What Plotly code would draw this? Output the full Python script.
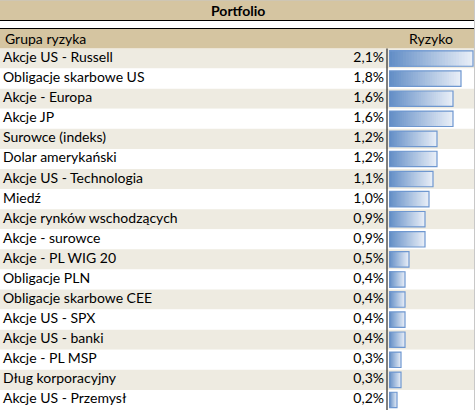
import plotly.graph_objects as go

# ---- data ----
categories = [
    "Akcje US - Russell", "Obligacje skarbowe US", "Akcje - Europa", "Akcje JP",
    "Surowce (indeks)", "Dolar amerykański", "Akcje US - Technologia", "Miedź",
    "Akcje rynków wschodzących", "Akcje - surowce", "Akcje - PL WIG 20",
    "Obligacje PLN", "Obligacje skarbowe CEE", "Akcje US - SPX", "Akcje US - banki",
    "Akcje - PL MSP", "Dług korporacyjny", "Akcje US - Przemysł",
]
risk = [2.1, 1.8, 1.6, 1.6, 1.2, 1.2, 1.1, 1.0, 0.9, 0.9, 0.5, 0.4, 0.4, 0.4, 0.4, 0.3, 0.3, 0.2]
title_text = "Portfolio"
col_headers = ["Grupa ryzyka", "Ryzyko"]

# ---- styling ----
W, H = 475, 410
FONT = "Lato"
FS = 14
TAN = "#D5C5A1"
BEIGE = "#EEEBE1"
BAR_DARK = (99, 142, 198)
BAR_LIGHT = (232, 238, 247)
BAR_EDGE = "#6E97D0"
top_px = 48.5           # top of data rows
bar_x0 = 389            # bars start
bar_full = 84           # px length of max bar

n = len(categories)
rows = list(range(n))
fig = go.Figure()

# row backgrounds
fig.add_trace(go.Bar(
    y=rows, x=[W] * n, base=0, orientation="h", width=1,
    marker=dict(color=[BEIGE if i % 2 == 0 else "white" for i in rows], line_width=0),
    xaxis="x", yaxis="y", hoverinfo="skip", showlegend=False))

# labels and values
fig.add_trace(go.Scatter(
    y=rows, x=[3] * n, mode="text", text=categories, textposition="middle right",
    textfont=dict(family=FONT, size=FS, color="black"),
    xaxis="x", yaxis="y", hoverinfo="skip", showlegend=False))
fig.add_trace(go.Scatter(
    y=rows, x=[384] * n, mode="text",
    text=[("%.1f" % v).replace(".", ",") + "%" for v in risk], textposition="middle left",
    textfont=dict(family=FONT, size=FS, color="black"),
    xaxis="x", yaxis="y", hoverinfo="skip", showlegend=False))

# gradient data bars (overlaid, light -> dark, shrinking)
N = 30
vmax = max(risk)
for k in range(N):
    t = k / (N - 1)
    c = tuple(round(BAR_LIGHT[j] + (BAR_DARK[j] - BAR_LIGHT[j]) * t) for j in range(3))
    frac = (N - k) / N
    fig.add_trace(go.Bar(
        y=rows, x=[v * frac for v in risk], base=0, orientation="h", width=0.77,
        marker=dict(color="rgb(%d,%d,%d)" % c, line_width=0),
        xaxis="x2", yaxis="y", hoverinfo="skip", showlegend=False))
# bar edges
fig.add_trace(go.Bar(
    y=rows, x=risk, base=0, orientation="h", width=0.77,
    marker=dict(color="rgba(0,0,0,0)", line=dict(color=BAR_EDGE, width=1.2)),
    xaxis="x2", yaxis="y", hoverinfo="skip", showlegend=False))

ydom_top = (H - top_px) / H
shapes = [
    dict(type="rect", xref="paper", yref="paper", x0=0, x1=1, y0=(H - 20) / H, y1=1,
         fillcolor=TAN, line_width=0, layer="below"),
    dict(type="rect", xref="paper", yref="paper", x0=0, x1=1, y0=ydom_top, y1=(H - 29) / H,
         fillcolor=TAN, line_width=0, layer="below"),
    dict(type="line", xref="paper", yref="paper", x0=0, x1=1, y0=(H - 20.5) / H, y1=(H - 20.5) / H,
         line=dict(color="black", width=1)),
    dict(type="line", xref="paper", yref="paper", x0=0, x1=1, y0=(H - 28.5) / H, y1=(H - 28.5) / H,
         line=dict(color="black", width=1)),
    dict(type="line", xref="x", yref="paper", x0=387, x1=387, y0=0, y1=ydom_top,
         line=dict(color="black", width=1)),
    dict(type="line", xref="paper", yref="paper", x0=0, x1=1, y0=1, y1=1,
         line=dict(color="#C8C8C8", width=1)),
    dict(type="line", xref="x", yref="paper", x0=474.5, x1=474.5, y0=0, y1=1,
         line=dict(color="#C8C8C8", width=1)),
]

annotations = [
    dict(text="<b>%s</b>" % title_text, xref="paper", yref="paper", x=0.5, y=(H - 10) / H,
         showarrow=False, xanchor="center", yanchor="middle",
         font=dict(family=FONT, size=FS, color="black")),
    dict(text=col_headers[0], xref="x", yref="paper", x=3, y=(H - 39) / H,
         showarrow=False, xanchor="left", yanchor="middle",
         font=dict(family=FONT, size=FS, color="black")),
    dict(text=col_headers[1], xref="x", yref="paper", x=431, y=(H - 39) / H,
         showarrow=False, xanchor="center", yanchor="middle",
         font=dict(family=FONT, size=FS, color="black")),
]

fig.update_layout(
    width=W, height=H, margin=dict(l=0, r=0, t=0, b=0),
    paper_bgcolor="white", plot_bgcolor="rgba(0,0,0,0)",
    barmode="overlay", showlegend=False,
    xaxis=dict(domain=[0, 1], range=[0, W], visible=False, fixedrange=True),
    xaxis2=dict(domain=[bar_x0 / W, 1], range=[0, vmax * (W - bar_x0) / bar_full],
                visible=False, anchor="y", fixedrange=True),
    yaxis=dict(domain=[0, ydom_top], range=[n - 0.5, -0.5], visible=False, fixedrange=True),
    shapes=shapes, annotations=annotations,
)

fig.write_html("out.html", config={"displayModeBar": False},
               post_script="document.body.style.margin='0';document.body.style.overflow='hidden';")
